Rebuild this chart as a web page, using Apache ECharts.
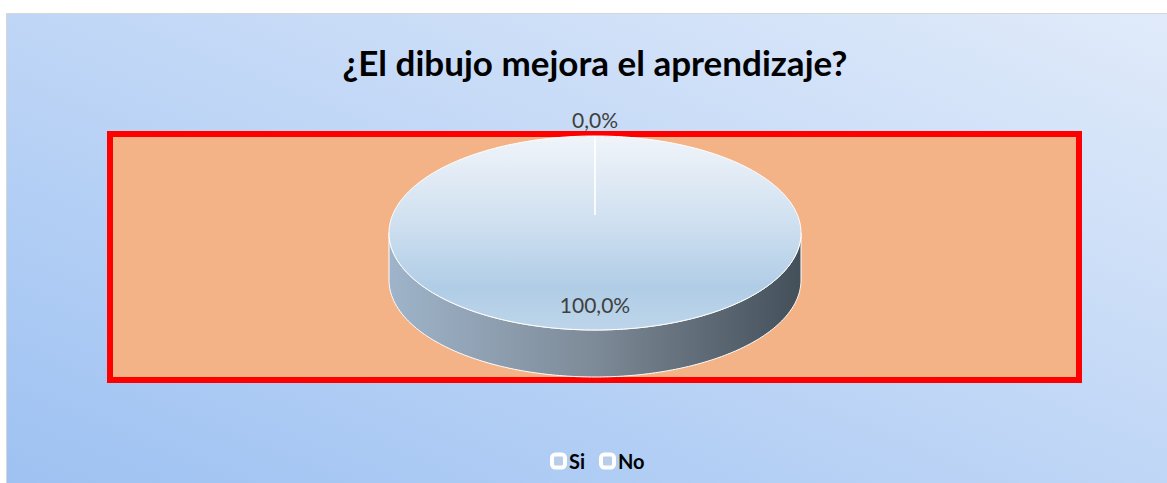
<!DOCTYPE html>
<html>
<head>
<meta charset="utf-8">
<script src="https://cdn.jsdelivr.net/npm/echarts@6/dist/echarts.min.js"></script>
<style>
  html, body { margin: 0; padding: 0; background: #fff; }
  #chart { width: 1167px; height: 483px; }
</style>
</head>
<body>
<div id="chart"></div>
<script>
// datos de la encuesta
const categories = ['Si', 'No']
const values = [100, 0]
const chartTitle = '¿El dibujo mejora el aprendizaje?'

const total = values.reduce((a, b) => a + b, 0)

// geometría del pastel 3D (elipse)
const cx = 595
const cy = 233
const rx = 206
const ry = 97
const depth = 47

const pt = (theta, dy) => [cx + rx * Math.sin(theta), cy - ry * Math.cos(theta) + dy]

const arcPoints = (a0, a1, dy) => {
  const pts = []
  const steps = Math.max(2, Math.ceil(Math.abs(a1 - a0) / (Math.PI / 180)))
  for (let i = 0; i <= steps; i++) {
    pts.push(pt(a0 + (a1 - a0) * i / steps, dy))
  }
  return pts
}

const fmtPct = (v) => ((v / total) * 100).toFixed(1).replace('.', ',') + '%'

const sideFill = {
  type: 'linear', x: cx - rx, y: 0, x2: cx + rx, y2: 0, global: true,
  colorStops: [
    { offset: 0, color: '#9fb4ca' },
    { offset: 0.5, color: '#7d8a97' },
    { offset: 1, color: '#434f59' }
  ]
}
const topFill = {
  type: 'linear', x: 0, y: cy - ry, x2: 0, y2: cy + ry, global: true,
  colorStops: [
    { offset: 0, color: '#f0f4fa' },
    { offset: 0.45, color: '#cfe0f0' },
    { offset: 0.78, color: '#b0cde6' },
    { offset: 1, color: '#bdd5ea' }
  ]
}

function renderSlice(params, api) {
  const idx = params.seriesIndex
  const v = api.value(0)
  let before = 0
  for (let i = 0; i < idx; i++) before += values[i]
  const a0 = (before / total) * Math.PI * 2
  const a1 = ((before + v) / total) * Math.PI * 2
  const children = []

  // pared frontal visible (entre 90° y 270°)
  const s = Math.max(a0, Math.PI / 2)
  const e = Math.min(a1, Math.PI * 1.5)
  if (e > s) {
    const pts = arcPoints(s, e, 0).concat(arcPoints(e, s, depth))
    children.push({
      type: 'polygon',
      shape: { points: pts },
      style: { fill: sideFill, stroke: '#ffffff', lineWidth: 1 }
    })
  }

  // cara superior (solo si la porción tiene tamaño)
  const full = a1 - a0 >= Math.PI * 2 - 1e-6
  if (a1 > a0) {
    children.push({
      type: 'polygon',
      shape: { points: arcPoints(a0, a1, 0).concat(full ? [] : [[cx, cy]]) },
      style: { fill: topFill, stroke: '#ffffff', lineWidth: 1 }
    })
  }

  // línea divisoria al inicio de cada porción
  const edge = pt(a0, 0)
  children.push({
    type: 'line',
    shape: { x1: edge[0], y1: edge[1], x2: cx + (edge[0] - cx) * 0.2, y2: cy - 18 },
    style: { stroke: '#ffffff', lineWidth: 1.2 }
  })

  // etiqueta de porcentaje
  const mid = (a0 + a1) / 2
  let lx, ly
  if (v / total < 0.02) {
    lx = cx + (rx + 14) * Math.sin(mid)
    ly = cy - (ry + 17) * Math.cos(mid)
  } else {
    lx = cx + rx * 0.74 * Math.sin(mid)
    ly = cy - ry * 0.74 * Math.cos(mid)
  }
  children.push({
    type: 'text',
    style: {
      x: lx, y: ly, text: fmtPct(v),
      align: 'center', verticalAlign: 'middle',
      fontFamily: 'Lato', fontSize: 21, fill: '#404040'
    }
  })
  return { type: 'group', children }
}

const chart = echarts.init(document.getElementById('chart'), null, { renderer: 'svg' })

chart.setOption({
  backgroundColor: '#ffffff',
  animation: false,
  title: {
    text: chartTitle,
    left: 590,
    textAlign: 'center',
    top: 39,
    textStyle: { fontFamily: 'Lato', fontSize: 35, fontWeight: 'bold', color: '#000' }
  },
  legend: {
    data: categories,
    left: 545,
    top: 446,
    itemWidth: 13,
    itemHeight: 13,
    itemGap: 14,
    icon: 'roundRect',
    itemStyle: { color: '#b7cde8', borderColor: '#ffffff', borderWidth: 4 },
    textStyle: { fontFamily: 'Lato', fontSize: 20, fontWeight: 'bold', color: '#000', padding: [0, 0, 0, -1] }
  },
  graphic: [
    {
      type: 'rect',
      z: -10,
      shape: { x: 6.5, y: 13.5, width: 1170, height: 480 },
      style: {
        fill: {
          type: 'linear', x: 0, y: 1, x2: 1, y2: 0,
          colorStops: [
            { offset: 0, color: '#9dc1f2' },
            { offset: 1, color: '#e1ebfa' }
          ]
        },
        stroke: '#d6d6d6',
        lineWidth: 1
      }
    },
    {
      type: 'rect',
      z: -5,
      shape: { x: 110, y: 134, width: 969, height: 246 },
      style: { fill: '#f3b386', stroke: '#ff0000', lineWidth: 6 }
    }
  ],
  series: categories.map((name, i) => ({
    name,
    type: 'custom',
    coordinateSystem: 'none',
    renderItem: renderSlice,
    itemStyle: { color: '#b7cde8' },
    data: [[values[i]]],
    z: 2
  }))
})
</script>
</body>
</html>
